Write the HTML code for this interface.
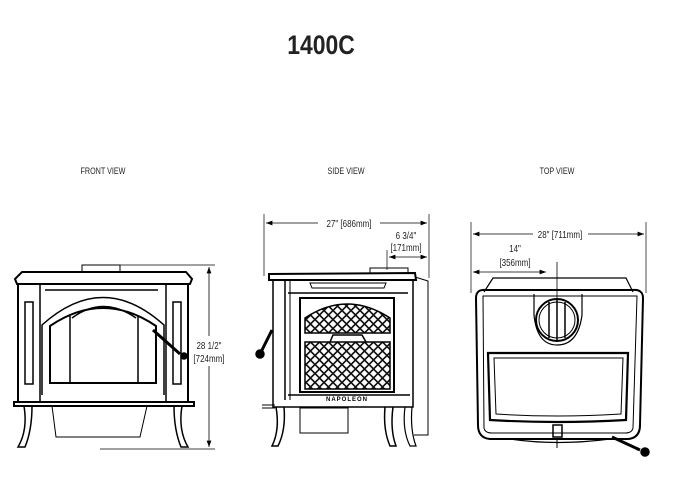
<!DOCTYPE html>
<html><head><style>
body{margin:0;background:#fff;}
svg{display:block;font-family:"Liberation Sans",sans-serif;}
</style></head><body>
<svg width="688" height="494" viewBox="0 0 688 494" xmlns="http://www.w3.org/2000/svg">
<defs>
<pattern id="lat" width="9" height="9" patternUnits="userSpaceOnUse">
<rect width="9" height="9" fill="#fff"/>
<path d="M0 4.5L4.5 0L9 4.5L4.5 9Z" fill="none" stroke="#111" stroke-width="1.6"/>
</pattern>
<marker id="ar" markerWidth="8" markerHeight="6" refX="8" refY="3" orient="auto"><path d="M0 0L8 3L0 6Z" fill="#000"/></marker>
<marker id="al" markerWidth="8" markerHeight="6" refX="0" refY="3" orient="auto"><path d="M8 0L0 3L8 6Z" fill="#000"/></marker>
</defs>
<text x="321" y="54" font-size="27" font-weight="bold" text-anchor="middle" fill="#222" transform="translate(321 0) scale(0.85 1) translate(-321 0)">1400C</text>
<g font-size="9" fill="#222" text-anchor="middle">
<text x="103" y="174" transform="translate(103 0) scale(0.8 1) translate(-103 0)">FRONT VIEW</text>
<text x="346" y="174" transform="translate(346 0) scale(0.8 1) translate(-346 0)">SIDE VIEW</text>
<text x="557" y="174" transform="translate(557 0) scale(0.8 1) translate(-557 0)">TOP VIEW</text>
</g>
<g stroke="#000" fill="none" stroke-width="1.5">
<!-- FRONT -->
<rect x="82" y="265" width="38" height="7" stroke-width="1"/>
<path d="M15 279 L22 272 L186 272 L192 279 L190 284 L17 284 Z" fill="#fff" stroke-width="2"/>
<rect x="18" y="284" width="170" height="118" stroke-width="2"/>
<rect x="18" y="284" width="22" height="118"/><rect x="166" y="284" width="22" height="118"/>
<rect x="25" y="302" width="8" height="82"/><rect x="173" y="302" width="8" height="82"/>
<path d="M45 290 L158 290"/>
<path d="M42 395 L42 325 Q103 270 164 325 L164 395"/>
<path d="M50 383 L50 326 Q103 290 156 326 L156 383 Z" stroke-width="2"/>
<path d="M70 383 L70 316 M138 383 L138 316 M72 318 Q103 295 136 318"/>
<line x1="153" y1="330" x2="180" y2="354" stroke-width="3"/>
<circle cx="184" cy="356" r="3" fill="#000"/>
<rect x="14" y="402" width="180" height="4" stroke-width="2"/>
<path d="M24 406 Q28 430 18 447 L25 447 Q32 430 32 406"/>
<path d="M182 406 Q178 430 188 447 L181 447 Q174 430 174 406"/>
<path d="M52 406 L56 437 L140 437 L147 406" stroke-width="1"/>
<line x1="100" y1="265" x2="215" y2="265" stroke-width="0.7"/>
<line x1="100" y1="449" x2="215" y2="449" stroke-width="0.7"/>
<line x1="209" y1="267" x2="209" y2="336" stroke-width="0.8" marker-start="url(#al)"/>
<line x1="209" y1="366" x2="209" y2="447" stroke-width="0.8" marker-end="url(#ar)"/>
<!-- SIDE -->
<line x1="264" y1="214" x2="264" y2="276" stroke-width="0.7"/>
<line x1="429" y1="214" x2="429" y2="278" stroke-width="0.7"/>
<line x1="266" y1="223" x2="318" y2="223" stroke-width="0.8" marker-start="url(#al)"/>
<line x1="380" y1="223" x2="427" y2="223" stroke-width="0.8" marker-end="url(#ar)"/>
<line x1="387" y1="250" x2="387" y2="270" stroke-width="0.7"/>
<line x1="389" y1="257" x2="427" y2="257" stroke-width="0.8" marker-start="url(#al)" marker-end="url(#ar)"/>
<rect x="370" y="268" width="38" height="5" stroke-width="1"/>
<path d="M269 274 L415 273 L416 280 L269 280 Z" fill="#fff" stroke-width="2"/>
<path d="M415 277 L428 281 L428 435 L414 435" stroke-width="1"/>
<rect x="273" y="280" width="140" height="127" stroke-width="1.5"/>
<line x1="285" y1="280" x2="285" y2="400"/><line x1="290" y1="280" x2="290" y2="400" stroke-width="1"/>
<path d="M310 283 L386 283 L384 288 L312 288 Z" stroke-width="1"/>
<line x1="288" y1="293" x2="408" y2="293"/>
<rect x="300" y="298" width="94" height="94" stroke-width="2"/>
<path d="M305 333 L305 318 Q347 290 390 318 L390 333 Z" fill="url(#lat)" stroke-width="1.5"/>
<path d="M330 342 L333 335 L362 335 L366 342" stroke-width="1.5"/>
<rect x="305" y="342" width="85" height="47" fill="url(#lat)" stroke-width="1.5"/>
<line x1="288" y1="395" x2="410" y2="395"/>
<text x="347" y="401" font-size="6" font-weight="bold" fill="#000" stroke="none" text-anchor="middle" letter-spacing="1">NAPOLEON</text>
<line x1="272" y1="330" x2="262" y2="350" stroke-width="3"/>
<circle cx="260" cy="354" r="4" fill="#000"/>
<path d="M262 405 L275 405 M262 408 L275 408" stroke-width="1"/>
<path d="M276 407 Q280 430 272 446 L278 446 Q286 430 284 407" stroke-width="1.5"/>
<path d="M393 407 Q390 430 396 446 L390 446 Q383 430 385 407" stroke-width="1.5"/>
<path d="M405 407 Q402 430 410 446 L416 446 Q410 430 412 407" stroke-width="1.2"/>
<rect x="300" y="408" width="48" height="25" stroke-width="1"/>
<!-- TOP -->
<line x1="471" y1="222" x2="471" y2="293" stroke-width="0.7"/>
<line x1="646" y1="222" x2="646" y2="293" stroke-width="0.7"/>
<line x1="473" y1="234" x2="533" y2="234" stroke-width="0.8" marker-start="url(#al)"/>
<line x1="588" y1="234" x2="644" y2="234" stroke-width="0.8" marker-end="url(#ar)"/>
<line x1="473" y1="272" x2="546" y2="272" stroke-width="0.8" marker-start="url(#al)" marker-end="url(#ar)"/>
<line x1="557" y1="262" x2="557" y2="300" stroke-width="0.8"/>
<path d="M484 292 L493 278 L626 278 L633 292" stroke-width="1.2"/>
<path d="M476 298 Q476 289 486 290 L632 290 Q643 289 643 298 L640 425 Q640 438 628 439 L490 439 Q478 438 478 425 Z" stroke-width="2"/>
<path d="M483 296 L637 296 L633 428 Q632 433 625 433 L492 433 Q485 433 484 428 Z" stroke-width="1"/>
<path d="M534 294 L534 315 Q537 345 557 345 Q578 345 582 315 L582 294" stroke-width="1.2"/>
<circle cx="557" cy="320" r="21" stroke-width="2"/>
<circle cx="557" cy="320" r="18" stroke-width="1"/>
<line x1="549" y1="302" x2="549" y2="338"/><line x1="557" y1="300" x2="557" y2="340"/><line x1="565" y1="302" x2="565" y2="338"/>
<path d="M488 353 L628 353 L626 420 Q557 424 490 420 Z" stroke-width="2.2"/>
<path d="M494 358 L623 358 L621 414 Q557 418 496 414 Z" stroke-width="1"/>
<rect x="553" y="425" width="9" height="12" stroke-width="1.5"/>
<path d="M510 439 Q557 446 610 439" stroke-width="1.2"/>
<line x1="557" y1="440" x2="557" y2="448" stroke-width="1"/>
<line x1="612" y1="437" x2="640" y2="450" stroke-width="3"/>
<circle cx="645" cy="452" r="4" fill="#000"/>
</g>
<g font-size="10" fill="#222" text-anchor="middle">
<text x="209" y="349" transform="translate(209 0) scale(0.8 1) translate(-209 0)">28 1/2"</text>
<text x="209" y="362" transform="translate(209 0) scale(0.8 1) translate(-209 0)">[724mm]</text>
<text x="349" y="227" transform="translate(349 0) scale(0.8 1) translate(-349 0)">27"  [686mm]</text>
<text x="406" y="239" transform="translate(406 0) scale(0.8 1) translate(-406 0)">6 3/4"</text>
<text x="406" y="251" transform="translate(406 0) scale(0.8 1) translate(-406 0)">[171mm]</text>
<text x="560" y="238" transform="translate(560 0) scale(0.8 1) translate(-560 0)">28" [711mm]</text>
<text x="515" y="252" transform="translate(515 0) scale(0.8 1) translate(-515 0)">14"</text>
<text x="515" y="266" transform="translate(515 0) scale(0.8 1) translate(-515 0)">[356mm]</text>
</g>
</svg>
</body></html>
